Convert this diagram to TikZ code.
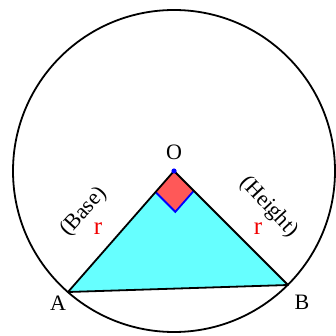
\documentclass[tikz,border=0pt]{standalone}
\usepackage{fontspec}
\setmainfont{Liberation Serif}
\usetikzlibrary{calc}
\definecolor{tri}{RGB}{102,255,255}
\definecolor{sq}{RGB}{255,88,88}
\definecolor{rtblue}{RGB}{0,0,255}
\definecolor{rred}{RGB}{240,0,0}

\begin{document}
\begin{tikzpicture}[
    x=1pt, y=-1pt,
    every node/.style={font=\fontsize{22}{22}\selectfont},
    edge/.style={draw=black, line width=1.8pt, line join=round},
    lbl/.style={inner sep=0pt},
    rlbl/.style={inner sep=0pt, text=rred, font=\fontsize{25}{25}\selectfont}
  ]
    \useasboundingbox (0,0) rectangle (335,336);

    \coordinate (O) at (174,171);
    \coordinate (A) at (68,292);
    \coordinate (B) at (288,285);
    \coordinate (sa) at ($(O)!28pt!(A)$);
    \coordinate (sb) at ($(O)!28pt!(B)$);
    \coordinate (sc) at ($(sa)+(sb)-(O)$);

    % triangle and right angle mark
    \fill[tri] (O) -- (A) -- (B) -- cycle;
    \fill[sq] (O) -- (sa) -- (sc) -- (sb) -- cycle;
    \draw[rtblue, line width=1.8pt] (sa) -- (sc) -- (sb);
    \draw[edge] (O) -- (A) -- (B) -- cycle;

    \draw[line width=1.8pt] (O) circle (161pt);
    \fill[rtblue] (O) circle (2.6pt);

    \node[lbl] (labO) at (174,152) {O};
    \node[lbl] (labA) at (58,303) {A};
    \node[lbl] (labB) at (302,302) {B};
    \node[lbl, rotate=48] (base) at (84,212) {(Base)};
    \node[lbl, rotate=-47] (height) at (269,207) {(Height)};
    \node[rlbl] (ra) at (98,229) {r};
    \node[rlbl] (rb) at (258,229) {r};
  \end{tikzpicture}
\end{document}
